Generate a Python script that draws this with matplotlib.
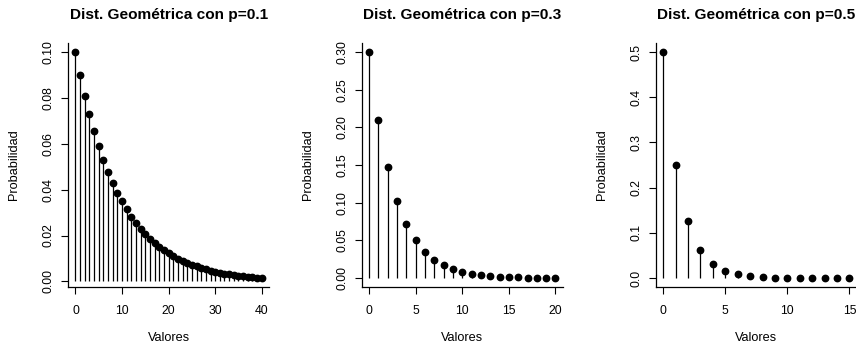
import numpy as np
import matplotlib.pyplot as plt

plt.rcParams['font.family'] = ['Liberation Sans', 'DejaVu Sans']

# Valores (probabilidades de la distribucion geometrica)
valores_01 = list(range(0, 41))
prob_01 = [0.1000, 0.0900, 0.0810, 0.0729, 0.0656, 0.0590, 0.0531, 0.0478, 0.0430, 0.0387,
           0.0349, 0.0314, 0.0282, 0.0254, 0.0229, 0.0206, 0.0185, 0.0167, 0.0150, 0.0135,
           0.0122, 0.0109, 0.0098, 0.0089, 0.0080, 0.0072, 0.0065, 0.0058, 0.0052, 0.0047,
           0.0042, 0.0038, 0.0034, 0.0031, 0.0028, 0.0025, 0.0023, 0.0020, 0.0018, 0.0016,
           0.0015]

valores_03 = list(range(0, 21))
prob_03 = [0.3000, 0.2100, 0.1470, 0.1029, 0.0720, 0.0504, 0.0353, 0.0247, 0.0173, 0.0121,
           0.0085, 0.0059, 0.0042, 0.0029, 0.0020, 0.0014, 0.0010, 0.0007, 0.0005, 0.0003,
           0.0002]

valores_05 = list(range(0, 16))
prob_05 = [0.5000, 0.2500, 0.1250, 0.0625, 0.0313, 0.0156, 0.0078, 0.0039, 0.0020, 0.0010,
           0.0005, 0.0002, 0.0001, 0.0001, 0.0000, 0.0000]

titulos = ["Dist. Geométrica con p=0.1", "Dist. Geométrica con p=0.3", "Dist. Geométrica con p=0.5"]
xticks = [[0, 10, 20, 30, 40], [0, 5, 10, 15, 20], [0, 5, 10, 15]]
yticks = [[0.00, 0.02, 0.04, 0.06, 0.08, 0.10],
          [0.00, 0.05, 0.10, 0.15, 0.20, 0.25, 0.30],
          [0.0, 0.1, 0.2, 0.3, 0.4, 0.5]]
yfmt = ["{:.2f}", "{:.2f}", "{:.1f}"]

W, H = 856, 350
fig = plt.figure(figsize=(W / 100, H / 100), dpi=100)

# posiciones de los paneles en pixeles (izquierda, arriba, ancho, alto)
lefts = [68, 361.7, 655.7]
top_px, bottom_px, ancho_px = 43, 287, 201.2

datos = [(valores_01, prob_01), (valores_03, prob_03), (valores_05, prob_05)]

for i, (x, y) in enumerate(datos):
    ax = fig.add_axes([lefts[i] / W, 1 - bottom_px / H, ancho_px / W, (bottom_px - top_px) / H])
    x = np.array(x)
    y = np.array(y)
    ax.vlines(x, 0, y, color='black', linewidth=0.9)
    ax.plot(x, y, 'o', color='black', markersize=4.6)

    # limites estilo R (4% de margen sobre el rango de los datos)
    dx = (x.max() - x.min()) * 0.04
    dy = (y.max() - y.min()) * 0.04
    ax.set_xlim(x.min() - dx, x.max() + dx)
    ax.set_ylim(y.min() - dy, y.max() + dy)

    ax.set_xticks(xticks[i])
    ax.set_yticks(yticks[i])
    ax.set_yticklabels([yfmt[i].format(v) for v in yticks[i]], rotation=90, va='center')
    ax.tick_params(direction='out', length=5, width=0.8, labelsize=8.8, pad=8)
    ax.tick_params(axis='y', pad=4.5)

    ax.spines['top'].set_visible(False)
    ax.spines['right'].set_visible(False)
    for s in ['left', 'bottom']:
        ax.spines[s].set_linewidth(0.9)

    ax.set_xlabel("Valores", fontsize=9.2, va='center')
    ax.xaxis.set_label_coords(0.5, -(338 - bottom_px) / (bottom_px - top_px))
    ax.set_ylabel("Probabilidad", fontsize=9.2, va='center')
    ax.yaxis.set_label_coords(-53.5 / ancho_px, 0.5)

    fig.text((lefts[i] + ancho_px / 2) / W, 1 - 15 / H, titulos[i],
             ha='center', va='center', fontsize=11.1, fontweight='bold')

fig.savefig("out.png", dpi=100)
